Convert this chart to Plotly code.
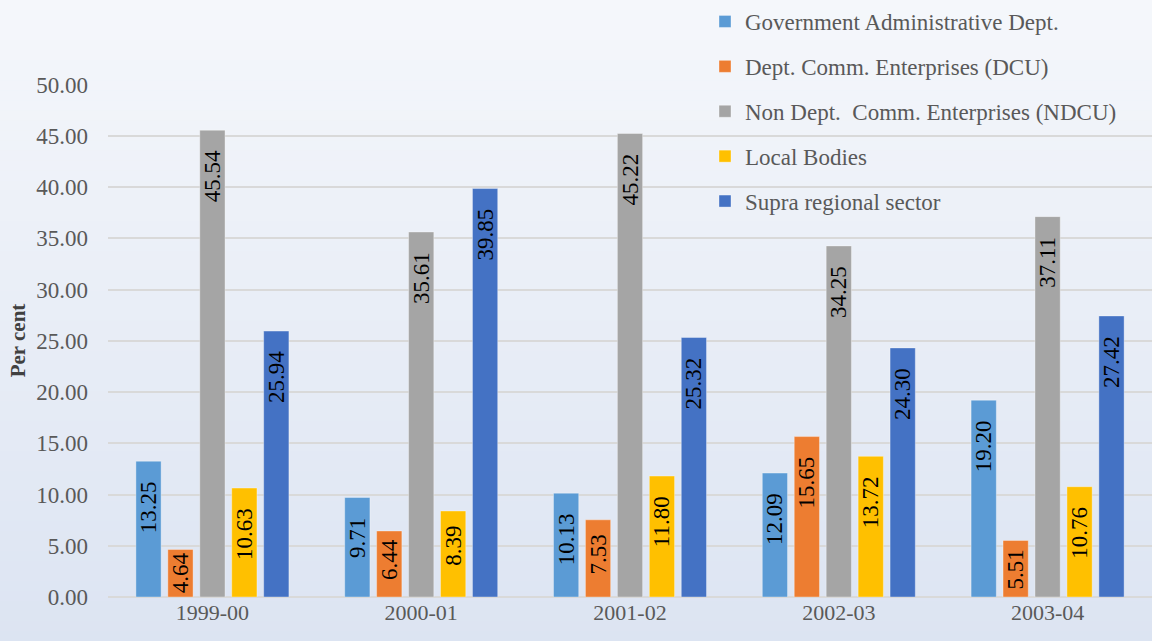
import plotly.graph_objects as go

categories = ["1999-00", "2000-01", "2001-02", "2002-03", "2003-04"]
series_names = [
    "Government Administrative Dept.",
    "Dept. Comm. Enterprises (DCU)",
    "Non Dept.  Comm. Enterprises (NDCU)",
    "Local Bodies",
    "Supra regional sector",
]
gov_admin = [13.25, 9.71, 10.13, 12.09, 19.20]
dcu = [4.64, 6.44, 7.53, 15.65, 5.51]
ndcu = [45.54, 35.61, 45.22, 34.25, 37.11]
local_bodies = [10.63, 8.39, 11.80, 13.72, 10.76]
supra_regional = [25.94, 39.85, 25.32, 24.30, 27.42]
colors = ["#5B9BD5", "#ED7D31", "#A5A5A5", "#FFC000", "#4472C4"]

FONT = "Liberation Serif, Times New Roman, serif"


def label(v):
    # small gap between label and bar top, like the reference (less on short bars)
    if v < 5:
        pad = 0
    elif v < 7:
        pad = 1
    elif v < 9:
        pad = 2
    else:
        pad = 3
    return f"{v:.2f}" + "\u00a0" * pad


fig = go.Figure()
for i, (name, vals) in enumerate(zip(series_names, [gov_admin, dcu, ndcu, local_bodies, supra_regional])):
    fig.add_trace(go.Bar(
        x=categories, y=vals, name=name,
        marker=dict(color=colors[i], line=dict(color="rgba(255,255,255,0.35)", width=1)),
        text=[label(v) for v in vals],
        textposition="inside", insidetextanchor="end", textangle=-90,
        constraintext="none",
        textfont=dict(family=FONT, size=23, color="#000000"),
        legendgroup=f"g{i}",
        hovertemplate="%{x}<br>%{y:.2f}<extra>" + name + "</extra>",
    ))

# vertical background gradient
top = (245, 247, 251)
bot = (220, 228, 242)
n = 64
H, W = 641.0, 1152.0
ml, mr, mt, mb = 108, 0, 84, 44
ph = H - mt - mb
pw = W - ml - mr
shapes = []
for k in range(n):
    y0px = H * k / n
    y1px = H * (k + 1) / n + 0.6
    t = (k + 0.5) / n
    c = tuple(round(top[j] + (bot[j] - top[j]) * t) for j in range(3))
    py0 = (H - mb - y1px) / ph
    py1 = (H - mb - y0px) / ph
    shapes.append(dict(type="rect", xref="paper", yref="paper",
                       x0=-ml / pw, x1=1 + mr / pw + 0.01, y0=py0, y1=py1,
                       fillcolor=f"rgb{c}", line=dict(width=0), layer="below"))

fig.update_layout(
    width=1152, height=641,
    margin=dict(l=ml, r=mr, t=mt, b=mb),
    paper_bgcolor="#e9edf6", plot_bgcolor="rgba(0,0,0,0)",
    barmode="group", bargap=0.235, bargroupgap=0.21,
    font=dict(family=FONT, color="#595959", size=22),
    shapes=shapes,
    legend=dict(x=(705 - ml) / pw, y=1 + 84 / ph, xanchor="left", yanchor="top",
                bgcolor="rgba(0,0,0,0)", font=dict(family=FONT, size=23, color="#595959"),
                tracegroupgap=12, itemwidth=30),
    xaxis=dict(type="category", showgrid=False, showline=False, ticks="",
               tickfont=dict(family=FONT, size=22, color="#595959")),
    yaxis=dict(range=[0, 50.05], dtick=5, tickformat=".2f",
               gridcolor="#d9d9d9", gridwidth=1.5,
               zeroline=True, zerolinecolor="#d9d9d9", zerolinewidth=1.5,
               showline=False, ticks="", ticklabelstandoff=19,
               tickfont=dict(family=FONT, size=23, color="#595959"),
               title=dict(text="<b>Per cent</b>", standoff=4,
                          font=dict(family=FONT, size=21, color="#404040"))),
)

fig.write_html("out.html", config={"displayModeBar": False},
               post_script="document.body.style.margin='0';document.body.style.padding='0';")
